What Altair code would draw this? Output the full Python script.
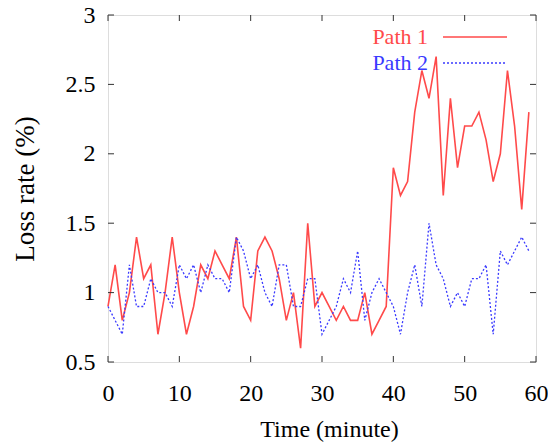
import altair as alt
import pandas as pd

minutes = list(range(60))
path1 = [0.9, 1.2, 0.8, 1.0, 1.4, 1.1, 1.2, 0.7, 1.0, 1.4,
         1.0, 0.7, 0.9, 1.2, 1.1, 1.3, 1.2, 1.1, 1.4, 0.9,
         0.8, 1.3, 1.4, 1.3, 1.1, 0.8, 1.0, 0.6, 1.5, 0.9,
         1.0, 0.9, 0.8, 0.9, 0.8, 0.8, 1.0, 0.7, 0.8, 0.9,
         1.9, 1.7, 1.8, 2.3, 2.6, 2.4, 2.7, 1.7, 2.4, 1.9,
         2.2, 2.2, 2.3, 2.1, 1.8, 2.0, 2.6, 2.2, 1.6, 2.3]
path2 = [0.9, 0.8, 0.7, 1.2, 0.9, 0.9, 1.1, 1.0, 1.0, 0.9,
         1.2, 1.1, 1.2, 1.0, 1.2, 1.1, 1.1, 1.0, 1.4, 1.3,
         1.1, 1.2, 1.0, 0.9, 1.2, 1.2, 0.9, 0.9, 1.1, 1.1,
         0.7, 0.8, 0.9, 1.1, 1.0, 1.3, 0.8, 1.0, 1.1, 1.0,
         0.9, 0.7, 1.0, 1.2, 0.9, 1.5, 1.2, 1.1, 0.9, 1.0,
         0.9, 1.1, 1.1, 1.2, 0.7, 1.3, 1.2, 1.3, 1.4, 1.3]
series_names = ["Path 1", "Path 2"]
x_ticks = [0, 10, 20, 30, 40, 50, 60]
y_ticks = [0.5, 1.0, 1.5, 2.0, 2.5, 3.0]

RED = "#ff4a4a"
BLUE = "#3a3aff"
FONT = "Liberation Serif, Times New Roman, serif"
W, H = 428, 347

df = pd.DataFrame({"minute": minutes, "p1": path1, "p2": path2})
xt = pd.DataFrame({"t": x_ticks})
yt = pd.DataFrame({"t": y_ticks})

xscale = alt.Scale(domain=[0, 60], nice=False, zero=False)
yscale = alt.Scale(domain=[0.5, 3], nice=False, zero=False)

xaxis = alt.Axis(values=x_ticks, title="Time (minute)", tickSize=0, labelPadding=19,
                 titlePadding=12, titleX=221, grid=False, domain=False, labelFontSize=24,
                 titleFontSize=24, labelFont=FONT, titleFont=FONT,
                 labelColor="#000", titleColor="#000", titleFontWeight="normal",
                 labelFlush=False)
yaxis = alt.Axis(values=y_ticks, title="Loss rate (%)", tickSize=0, labelPadding=13,
                 titlePadding=26, grid=False, domain=False, labelFontSize=24,
                 titleFontSize=27, labelFont=FONT, titleFont=FONT,
                 labelColor="#000", titleColor="#000", titleFontWeight="normal",
                 format="~g", labelFlush=False)

base = alt.Chart(df)
line1 = base.mark_line(color=RED, strokeWidth=1.6).encode(
    x=alt.X("minute:Q", scale=xscale, axis=xaxis),
    y=alt.Y("p1:Q", scale=yscale, axis=yaxis),
)
line2 = base.mark_line(color=BLUE, strokeWidth=1.3, strokeDash=[2, 2]).encode(
    x=alt.X("minute:Q", scale=xscale),
    y=alt.Y("p2:Q", scale=yscale),
)

tk = 6
xt_bot = alt.Chart(xt).mark_rule(color="#333", strokeWidth=1).encode(
    x=alt.X("t:Q", scale=xscale), y=alt.value(H), y2=alt.value(H - tk))
xt_top = alt.Chart(xt).mark_rule(color="#333", strokeWidth=1).encode(
    x=alt.X("t:Q", scale=xscale), y=alt.value(0), y2=alt.value(tk))
yt_left = alt.Chart(yt).mark_rule(color="#333", strokeWidth=1).encode(
    y=alt.Y("t:Q", scale=yscale), x=alt.value(0), x2=alt.value(tk))
yt_right = alt.Chart(yt).mark_rule(color="#333", strokeWidth=1).encode(
    y=alt.Y("t:Q", scale=yscale), x=alt.value(W), x2=alt.value(W - tk))

leg_df = pd.DataFrame({"name": series_names})
leg_t1 = alt.Chart(leg_df.iloc[[0]]).mark_text(
    align="right", baseline="middle", font=FONT, fontSize=22, color=RED
).encode(text="name:N", x=alt.value(320), y=alt.value(22))
leg_t2 = alt.Chart(leg_df.iloc[[1]]).mark_text(
    align="right", baseline="middle", font=FONT, fontSize=22, color=BLUE
).encode(text="name:N", x=alt.value(320), y=alt.value(48))
leg_l1 = alt.Chart(leg_df.iloc[[0]]).mark_rule(color=RED, strokeWidth=1.6).encode(
    x=alt.value(335), x2=alt.value(399), y=alt.value(22))
leg_l2 = alt.Chart(leg_df.iloc[[1]]).mark_rule(color=BLUE, strokeWidth=1.3, strokeDash=[2, 2]).encode(
    x=alt.value(335), x2=alt.value(399), y=alt.value(48))

chart = alt.layer(
    line1, line2, xt_bot, xt_top, yt_left, yt_right, leg_t1, leg_t2, leg_l1, leg_l2
).properties(
    width=W, height=H,
    autosize=alt.AutoSizeParams(type="none"),
    padding={"left": 108, "top": 15, "right": 12, "bottom": 83},
).configure_view(
    stroke="#222", strokeWidth=1.5
).configure(background="white")

chart.save("out.html", embed_options={"renderer": "svg", "actions": False})
